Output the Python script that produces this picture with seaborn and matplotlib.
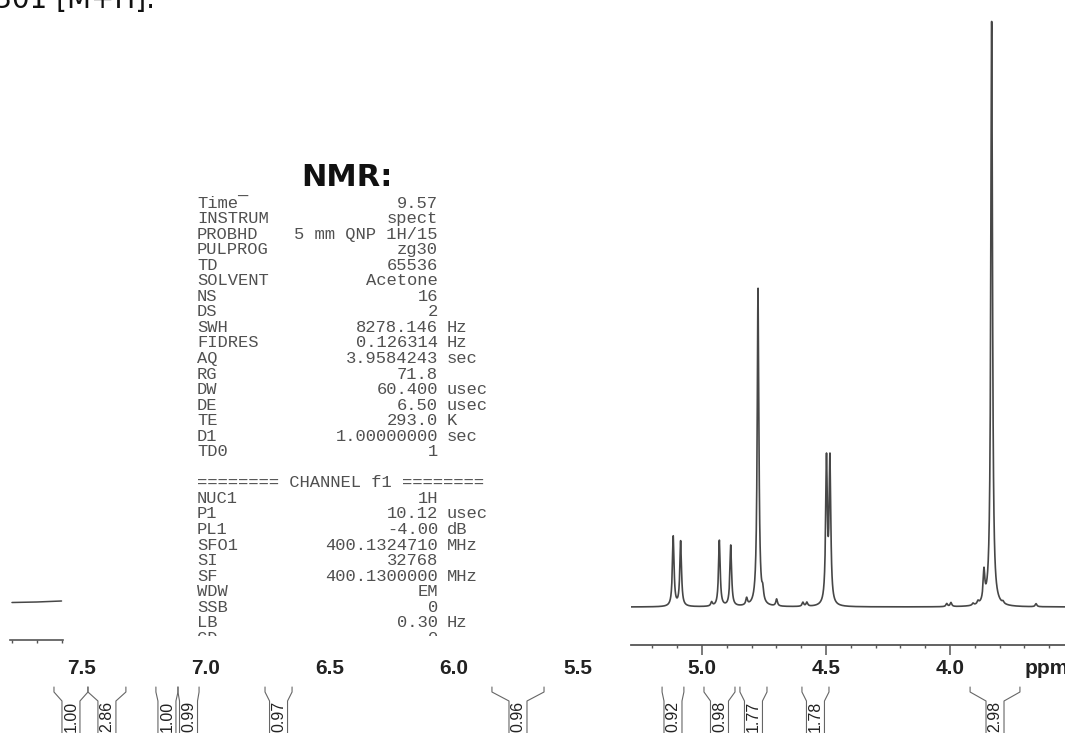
import numpy as np
import matplotlib
matplotlib.use("Agg")
import matplotlib.pyplot as plt
import seaborn as sns

# Señales del espectro (ppm, altura relativa)
peak_ppm = [5.116, 5.086, 4.961, 4.930, 4.884, 4.820, 4.774, 4.755, 4.699,
            4.593, 4.577, 4.498, 4.484, 4.013, 3.996, 3.907, 3.887, 3.863,
            3.832, 3.786, 3.653]
peak_height = [70, 65, 4, 66, 61, 7, 318, 10, 7,
               4, 4, 143, 143, 3, 4, 2, 3, 30,
               585, 2, 3]

# Trozo de espectro que queda a la izquierda
left_trace_ppm = [7.80, 7.70, 7.60]
left_trace_int = [-0.5, 0, 1]

# Etiquetas del eje
tick_ppm = [7.5, 7.0, 6.5, 6.0, 5.5, 5.0, 4.5, 4.0]
tick_labels = ['7.5', '7.0', '6.5', '6.0', '5.5', '5.0', '4.5', '4.0']

# Integrales
integral_start = [7.613, 7.476, 7.202, 7.113, 6.762, 5.847, 5.161, 4.992, 4.847, 4.597, 3.919]
integral_end = [7.476, 7.323, 7.113, 7.028, 6.653, 5.637, 5.073, 4.867, 4.738, 4.488, 3.718]
integral_value = ['1.00', '2.86', '1.00', '0.99', '0.97', '0.96', '0.92', '0.98', '1.77', '1.78', '2.98']

# Parámetros de adquisición
param_names = ['Time\u00af', 'INSTRUM', 'PROBHD', 'PULPROG', 'TD', 'SOLVENT', 'NS', 'DS',
               'SWH', 'FIDRES', 'AQ', 'RG', 'DW', 'DE', 'TE', 'D1', 'TD0', '',
               '======== CHANNEL f1 ========', 'NUC1', 'P1', 'PL1', 'SFO1', 'SI', 'SF',
               'WDW', 'SSB', 'LB', 'CD']
param_values = ['9.57', 'spect', '5 mm QNP 1H/15', 'zg30', '65536', 'Acetone', '16', '2',
                '8278.146', '0.126314', '3.9584243', '71.8', '60.400', '6.50', '293.0',
                '1.00000000', '1', '', '', '1H', '10.12', '-4.00', '400.1324710', '32768',
                '400.1300000', 'EM', '0', '0.30', '0']
param_units = ['', '', '', '', '', '', '', '', 'Hz', 'Hz', 'sec', '', 'usec', 'usec', 'K',
               'sec', '', '', '', '', 'usec', 'dB', 'MHz', '', 'MHz', '', '', 'Hz', '']

sns.set_style('white')
plt.rcParams['font.family'] = ['DejaVu Sans']

W, H = 1065, 733
fig = plt.figure(figsize=(W / 100, H / 100), dpi=100)


def px_axes(x0, y0, x1, y1):
    # caja en píxeles (origen arriba a la izquierda)
    return fig.add_axes([x0 / W, 1 - y1 / H, (x1 - x0) / W, (y1 - y0) / H])


def px_to_ppm(x):
    return 5.0 - (x - 702) / 248.0


line_col = '#474747'

# Espectro principal
ax = px_axes(631, 0, 1065, 645)
ppm = np.linspace(px_to_ppm(631), px_to_ppm(1065), 40000)
hwhm = 0.004
intensity = np.zeros_like(ppm)
for p, h in zip(peak_ppm, peak_height):
    intensity += h / (1 + ((ppm - p) / hwhm) ** 2)
sns.lineplot(x=ppm, y=intensity, ax=ax, color=line_col, linewidth=1.2, estimator=None)
ax.set_xlim(px_to_ppm(631), px_to_ppm(1065))
ax.set_ylim(-38, 607)
for s in ['top', 'left', 'right']:
    ax.spines[s].set_visible(False)
ax.spines['bottom'].set_color('#555555')
ax.spines['bottom'].set_linewidth(1.3)
ax.set_yticks([])
ax.set_xticks([5.0, 4.5, 4.0])
ax.set_xticks(np.arange(3.6, 5.3, 0.1), minor=True)
ax.tick_params(axis='x', which='major', length=7, width=1.1, color='#555555',
               direction='out', bottom=True, labelbottom=False)
ax.tick_params(axis='x', which='minor', length=2.2, width=1.0, color='#555555',
               direction='out', bottom=True)
ax.set_xlabel('')
ax.patch.set_alpha(0)

# Resto de espectro a la izquierda
axl = px_axes(10, 0, 63, 640)
sns.lineplot(x=left_trace_ppm, y=left_trace_int, ax=axl, color=line_col, linewidth=1.1)
axl.set_xlim(7.808, 7.594)
axl.set_ylim(-38, 602)
for s in ['top', 'left', 'right']:
    axl.spines[s].set_visible(False)
axl.spines['bottom'].set_color('#555555')
axl.spines['bottom'].set_linewidth(1.2)
axl.set_yticks([])
axl.set_xticks([7.8, 7.7, 7.6])
axl.tick_params(axis='x', length=2.2, width=1.0, color='#555555', direction='out',
                bottom=True, labelbottom=False)
axl.set_xlabel('')
axl.patch.set_alpha(0)

# Bloque de parámetros
axp = px_axes(180, 190, 520, 636)
axp.set_xlim(180, 520)
axp.set_ylim(636, 190)
axp.axis('off')
mono = dict(family='Liberation Mono', fontsize=12.3, color='#505050', va='center', clip_on=True)
for i, (n, v, u) in enumerate(zip(param_names, param_values, param_units)):
    y = 203 + i * 15.55
    axp.text(197, y, n, ha='left', **mono)
    axp.text(438, y, v, ha='right', **mono)
    axp.text(447, y, u, ha='left', **mono)

# Capa superior: etiquetas, integrales y textos
ov = fig.add_axes([0, 0, 1, 1])
ov.set_xlim(px_to_ppm(0), px_to_ppm(W))
ov.set_ylim(H, 0)
ov.axis('off')

ov.text(px_to_ppm(155), 8, 'm/z 301 [M+H].', ha='right', va='baseline',
        fontsize=20, color='#111111')
ov.text(px_to_ppm(347), 177, 'NMR:', ha='center', va='center', fontsize=22,
        weight='bold', color='#111111')

for p, lab in zip(tick_ppm, tick_labels):
    ov.text(p, 668, lab, ha='center', va='center', fontsize=15, weight='bold',
            family='Liberation Sans', color='#222222')
ov.text(px_to_ppm(1025), 668, 'ppm', ha='left', va='center', fontsize=15, weight='bold',
        family='Liberation Sans', color='#222222')

bend = 9 / 248.0
for a, b, v in zip(integral_start, integral_end, integral_value):
    c = (a + b) / 2
    hw = min((a - b) / 2, bend)
    ov.plot([a, a, c + hw, c + hw], [687, 692, 701, 740], color='#666666', lw=0.8)
    ov.plot([b, b, c - hw, c - hw], [687, 692, 701, 740], color='#666666', lw=0.8)
    ov.text(c, 716, v, rotation=90, ha='center', va='center', fontsize=11.5,
            family='Liberation Sans', color='#222222')

fig.savefig('out.png', dpi=100)
